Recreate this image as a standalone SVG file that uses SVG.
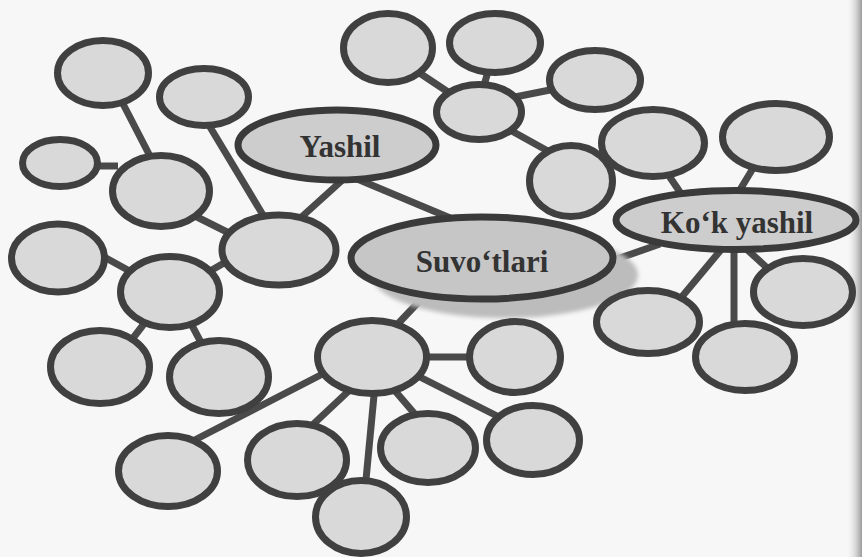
<svg xmlns="http://www.w3.org/2000/svg" width="862" height="557" viewBox="0 0 862 557">
<defs>
<style>
.n{fill:#d9d9d9;stroke:#404040;stroke-width:7}
.m{fill:#cdcdcd;stroke:#3a3a3a;stroke-width:7}
.c line{stroke:#4a4a4a;stroke-width:7;stroke-linecap:butt}
.t{font-family:"Liberation Serif","Times New Roman",serif;font-weight:bold;font-size:31px;fill:#333;text-anchor:middle}
</style>
<filter id="blur" x="-20%" y="-40%" width="140%" height="180%"><feGaussianBlur stdDeviation="2"/></filter>
<linearGradient id="edge" x1="0" x2="1" y1="0" y2="0"><stop offset="0" stop-color="#f7f7f7" stop-opacity="0"/><stop offset="1" stop-color="#9a9a9a"/></linearGradient>
</defs>
<rect width="862" height="557" fill="#f7f7f7"/>
<rect x="846" y="0" width="16" height="557" fill="url(#edge)"/>
<g class="c" id="connectors">
<line x1="120" y1="98" x2="152" y2="160"/>
<line x1="207" y1="122" x2="266" y2="220"/>
<line x1="92" y1="166" x2="118" y2="166"/>
<line x1="195" y1="216" x2="235" y2="236"/>
<line x1="348" y1="175" x2="296" y2="222"/>
<line x1="350" y1="176" x2="455" y2="220"/>
<line x1="236" y1="256" x2="205" y2="274"/>
<line x1="95" y1="252" x2="135" y2="274"/>
<line x1="150" y1="316" x2="130" y2="342"/>
<line x1="188" y1="318" x2="205" y2="350"/>
<line x1="430" y1="290" x2="392" y2="330"/>
<line x1="340" y1="365" x2="185" y2="445"/>
<line x1="355" y1="385" x2="305" y2="432"/>
<line x1="375" y1="385" x2="365" y2="490"/>
<line x1="390" y1="385" x2="420" y2="420"/>
<line x1="420" y1="357" x2="475" y2="357"/>
<line x1="410" y1="372" x2="505" y2="420"/>
<line x1="415" y1="70" x2="460" y2="100"/>
<line x1="490" y1="65" x2="482" y2="92"/>
<line x1="510" y1="98" x2="560" y2="88"/>
<line x1="510" y1="130" x2="555" y2="155"/>
<line x1="665" y1="170" x2="684" y2="198"/>
<line x1="755" y1="165" x2="735" y2="198"/>
<line x1="600" y1="265" x2="660" y2="244"/>
<line x1="725" y1="245" x2="675" y2="305"/>
<line x1="734" y1="245" x2="734" y2="330"/>
<line x1="742" y1="245" x2="775" y2="275"/>
</g>
<g id="n1"><ellipse class="n" cx="103" cy="73" rx="45.5" ry="32.5"/></g>
<g id="n2"><ellipse class="n" cx="204" cy="97" rx="44.5" ry="28.5"/></g>
<g id="n3"><ellipse class="n" cx="60" cy="163" rx="37.5" ry="23.5"/></g>
<g id="n4"><ellipse class="n" cx="161" cy="191" rx="48.5" ry="35.5"/></g>
<g id="yashil"><ellipse class="m" cx="337" cy="145" rx="99" ry="35"/><text class="t" x="340" y="157">Yashil</text></g>
<g id="n6"><ellipse class="n" cx="279" cy="250" rx="57" ry="35"/></g>
<g id="n7"><ellipse class="n" cx="388" cy="48" rx="44.5" ry="34.5"/></g>
<g id="n8"><ellipse class="n" cx="495" cy="43" rx="45.5" ry="29.5"/></g>
<g id="n9"><ellipse class="n" cx="479" cy="112" rx="42.5" ry="27.5"/></g>
<g id="n10"><ellipse class="n" cx="595" cy="80" rx="45.5" ry="29.5"/></g>
<g id="n11"><ellipse class="n" cx="571" cy="181" rx="41.5" ry="35.5"/></g>
<g id="n12"><ellipse class="n" cx="653" cy="143" rx="51.5" ry="33.5"/></g>
<g id="n13"><ellipse class="n" cx="776" cy="137" rx="53.5" ry="33.5"/></g>
<g id="kokyashil"><ellipse class="m" cx="736" cy="220" rx="120" ry="29.5"/><text class="t" x="737" y="233">Ko‘k yashil</text></g>
<g id="suvotlari">
<ellipse cx="505" cy="275" rx="133" ry="43" fill="#bcbcbc" filter="url(#blur)"/>
<ellipse class="m" cx="482" cy="258" rx="131" ry="41" style="fill:#c6c6c6"/>
<text class="t" x="482" y="272">Suvo‘tlari</text>
</g>
<g id="n16"><ellipse class="n" cx="648" cy="322" rx="51.5" ry="31.5"/></g>
<g id="n18"><ellipse class="n" cx="803" cy="292" rx="49.5" ry="33.5"/></g>
<g id="n17"><ellipse class="n" cx="745" cy="357" rx="49.5" ry="33.5"/></g>
<g id="n19"><ellipse class="n" cx="58" cy="258" rx="46.5" ry="34"/></g>
<g id="n20"><ellipse class="n" cx="170" cy="292" rx="49.5" ry="35.5"/></g>
<g id="n21"><ellipse class="n" cx="100" cy="367" rx="49.5" ry="36.5"/></g>
<g id="n22"><ellipse class="n" cx="219" cy="377" rx="49.5" ry="36.5"/></g>
<g id="n23"><ellipse class="n" cx="372" cy="357" rx="54.5" ry="36.5"/></g>
<g id="n24"><ellipse class="n" cx="168" cy="471" rx="49.5" ry="35.5"/></g>
<g id="n25"><ellipse class="n" cx="297" cy="460" rx="49.5" ry="36.5"/></g>
<g id="n26"><ellipse class="n" cx="361" cy="517" rx="45.5" ry="36.5"/></g>
<g id="n27"><ellipse class="n" cx="428" cy="448" rx="47.5" ry="34.5"/></g>
<g id="n28"><ellipse class="n" cx="515" cy="357" rx="45.5" ry="35.5"/></g>
<g id="n29"><ellipse class="n" cx="533" cy="440" rx="46.5" ry="34.5"/></g>
</svg>
